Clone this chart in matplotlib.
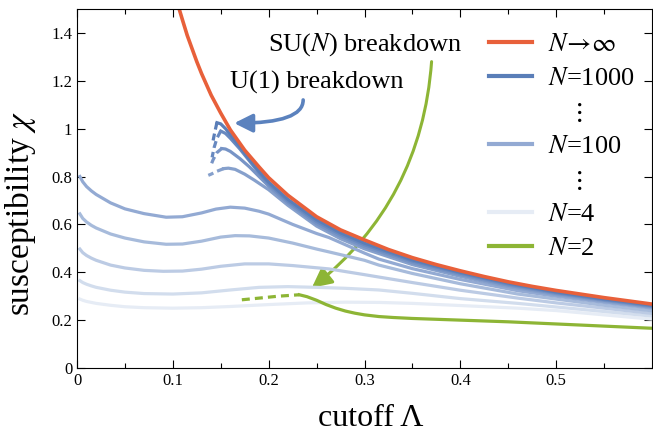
import matplotlib
matplotlib.use('Agg')
import matplotlib.pyplot as plt
from matplotlib.lines import Line2D
from matplotlib.patches import FancyArrowPatch

plt.rcParams['font.family'] = ['Liberation Serif', 'DejaVu Serif']
plt.rcParams['mathtext.fontset'] = 'stix'

# N -> infinity envelope
inf_x = [0.107, 0.11, 0.115, 0.12, 0.125, 0.13, 0.14, 0.15, 0.16, 0.175, 0.19, 0.2, 0.22, 0.25,
         0.275, 0.3, 0.325, 0.35, 0.375, 0.4, 0.425, 0.45, 0.475, 0.5, 0.55, 0.6]
inf_y = [1.495, 1.455, 1.39, 1.335, 1.28, 1.23, 1.14, 1.065, 0.995, 0.91, 0.84, 0.795, 0.722, 0.632,
         0.577, 0.535, 0.495, 0.461, 0.432, 0.406, 0.382, 0.36, 0.341, 0.324, 0.294, 0.267]

# large-N curves (U(1) breakdown), solid part
u1_x = [0.146, 0.15, 0.155, 0.16, 0.17, 0.18, 0.19, 0.2, 0.22, 0.25, 0.275, 0.3, 0.35, 0.4, 0.45, 0.5, 0.55, 0.6]
u1_y = [1.025, 1.02, 1.0, 0.975, 0.925, 0.872, 0.822, 0.777, 0.705, 0.62, 0.565, 0.522, 0.452, 0.4, 0.355,
        0.318, 0.289, 0.263]
u2_x = [0.15, 0.155, 0.16, 0.17, 0.18, 0.19, 0.2, 0.22, 0.25, 0.275, 0.3, 0.35, 0.4, 0.45, 0.5, 0.55, 0.6]
u2_y = [0.99, 0.98, 0.96, 0.915, 0.865, 0.815, 0.77, 0.698, 0.612, 0.558, 0.515, 0.447, 0.396, 0.351,
        0.315, 0.286, 0.26]
u3_x = [0.151, 0.155, 0.16, 0.17, 0.18, 0.19, 0.2, 0.22, 0.25, 0.275, 0.3, 0.35, 0.4, 0.45, 0.5, 0.55, 0.6]
u3_y = [0.917, 0.915, 0.905, 0.875, 0.84, 0.8, 0.76, 0.69, 0.603, 0.55, 0.507, 0.44, 0.39, 0.346,
        0.311, 0.283, 0.257]
u4_x = [0.153, 0.158, 0.165, 0.175, 0.185, 0.2, 0.22, 0.25, 0.275, 0.3, 0.35, 0.4, 0.45, 0.5, 0.55, 0.6]
u4_y = [0.833, 0.835, 0.83, 0.81, 0.785, 0.745, 0.68, 0.593, 0.54, 0.498, 0.432, 0.383, 0.34, 0.306,
        0.279, 0.254]

# dashed (unstable) branches
u1_dash_x = [0.146, 0.144, 0.142]
u1_dash_y = [1.025, 0.99, 0.95]
u2_dash_x = [0.150, 0.146, 0.143, 0.141]
u2_dash_y = [0.99, 0.96, 0.92, 0.88]
u3_dash_x = [0.151, 0.146, 0.142, 0.139]
u3_dash_y = [0.917, 0.90, 0.87, 0.84]
u4_dash_x = [0.153, 0.146, 0.140, 0.137]
u4_dash_y = [0.833, 0.822, 0.81, 0.805]

# small-N curves, from cutoff ~0
l1_x = [0.003, 0.006, 0.01, 0.015, 0.02, 0.035, 0.05, 0.07, 0.093, 0.11, 0.13, 0.145, 0.16, 0.175, 0.19,
        0.2, 0.225, 0.25, 0.263, 0.3, 0.315, 0.35, 0.4, 0.46, 0.5, 0.55, 0.6]
l1_y = [0.80, 0.778, 0.758, 0.74, 0.725, 0.69, 0.665, 0.645, 0.63, 0.632, 0.648, 0.664, 0.672, 0.668,
        0.655, 0.643, 0.6, 0.562, 0.545, 0.48, 0.455, 0.415, 0.37, 0.323, 0.3, 0.274, 0.25]
l2_x = [0.003, 0.006, 0.01, 0.015, 0.02, 0.035, 0.05, 0.07, 0.093, 0.11, 0.13, 0.15, 0.165, 0.18, 0.2,
        0.225, 0.25, 0.263, 0.3, 0.315, 0.35, 0.4, 0.46, 0.5, 0.55, 0.6]
l2_y = [0.644, 0.625, 0.61, 0.596, 0.585, 0.56, 0.543, 0.527, 0.517, 0.518, 0.53, 0.547, 0.553, 0.552,
        0.543, 0.522, 0.497, 0.485, 0.45, 0.43, 0.395, 0.352, 0.309, 0.288, 0.262, 0.239]
l3_x = [0.003, 0.006, 0.01, 0.015, 0.02, 0.035, 0.05, 0.07, 0.09, 0.11, 0.13, 0.15, 0.175, 0.2, 0.225,
        0.263, 0.3, 0.315, 0.35, 0.4, 0.46, 0.5, 0.55, 0.6]
l3_y = [0.497, 0.482, 0.47, 0.459, 0.45, 0.43, 0.418, 0.408, 0.404, 0.405, 0.413, 0.425, 0.435, 0.435,
        0.428, 0.414, 0.39, 0.38, 0.357, 0.325, 0.292, 0.272, 0.25, 0.228]
l4_x = [0.003, 0.006, 0.01, 0.015, 0.02, 0.035, 0.05, 0.07, 0.1, 0.13, 0.16, 0.19, 0.22, 0.25, 0.28,
        0.315, 0.35, 0.4, 0.46, 0.5, 0.55, 0.6]
l4_y = [0.365, 0.357, 0.35, 0.343, 0.337, 0.325, 0.317, 0.311, 0.309, 0.314, 0.326, 0.337, 0.34, 0.337,
        0.333, 0.326, 0.312, 0.29, 0.27, 0.255, 0.236, 0.217]
l5_x = [0.003, 0.006, 0.01, 0.015, 0.02, 0.035, 0.05, 0.07, 0.1, 0.13, 0.16, 0.2, 0.24, 0.28, 0.315,
        0.35, 0.4, 0.46, 0.5, 0.55, 0.6]
l5_y = [0.288, 0.283, 0.278, 0.274, 0.27, 0.262, 0.256, 0.252, 0.25, 0.252, 0.257, 0.265, 0.272, 0.275,
        0.274, 0.27, 0.261, 0.25, 0.24, 0.222, 0.204]

# N = 2
n2_dash_x = [0.172, 0.19, 0.21, 0.232]
n2_dash_y = [0.285, 0.292, 0.300, 0.306]
n2_x = [0.232, 0.24, 0.25, 0.26, 0.27, 0.28, 0.29, 0.3, 0.315, 0.33, 0.35, 0.4, 0.45, 0.5, 0.55, 0.6]
n2_y = [0.306, 0.298, 0.283, 0.265, 0.25, 0.238, 0.229, 0.222, 0.215, 0.211, 0.207, 0.2, 0.193, 0.184,
        0.175, 0.166]

c_inf = '#E8603A'
c_green = '#8DB535'
c_arrow = '#5B82BE'
up_cols = ['#5A7EB8', '#6889C0', '#7794C6', '#86A0CC']
low_cols = ['#93AAD3', '#A7BBDB', '#BCCBE4', '#D2DDED', '#E6ECF5']

fig = plt.figure(figsize=(6.53, 4.37), dpi=100)
ax = fig.add_axes([77/653, 1 - 368/437, 575/653, 359/437])

lw = 2.3
low = [(l5_x, l5_y), (l4_x, l4_y), (l3_x, l3_y), (l2_x, l2_y), (l1_x, l1_y)]
for (xs, ys), c in zip(low, low_cols[::-1]):
    ax.plot(xs, ys, color=c, lw=lw)

ups = [(u4_x, u4_y, u4_dash_x, u4_dash_y), (u3_x, u3_y, u3_dash_x, u3_dash_y),
       (u2_x, u2_y, u2_dash_x, u2_dash_y), (u1_x, u1_y, u1_dash_x, u1_dash_y)]
for (xs, ys, dx, dy), c in zip(ups, up_cols[::-1]):
    ax.plot(xs, ys, color=c, lw=lw)
    ax.plot(dx, dy, color=c, lw=lw, ls=(0, (2.2, 1.3)))

ax.plot(inf_x, inf_y, color=c_inf, lw=2.6)
ax.plot(n2_dash_x, n2_dash_y, color=c_green, lw=lw, ls=(0, (2.5, 1.6)))
ax.plot(n2_x, n2_y, color=c_green, lw=lw)

# arrows and annotations
ax.add_patch(FancyArrowPatch((0.37, 1.28), (0.245, 0.335), connectionstyle='arc3,rad=-0.22',
                             arrowstyle='-|>,head_length=12,head_width=6', color=c_green, lw=2.2,
                             shrinkA=0, shrinkB=0))
ax.add_patch(FancyArrowPatch((0.236, 1.12), (0.164, 1.023), connectionstyle='angle3,angleA=90,angleB=0',
                             arrowstyle='-|>,head_length=11,head_width=5.5', color=c_arrow, lw=2.6,
                             shrinkA=0, shrinkB=0))
ax.text(0.3005, 1.35, 'SU($N$) breakdown', fontsize=19, ha='center', va='center')
ax.text(0.2506, 1.195, 'U(1) breakdown', fontsize=19, ha='center', va='center')

handles = [Line2D([], [], color=c_inf, lw=3),
           Line2D([], [], color=up_cols[0], lw=3),
           Line2D([], [], color='none'),
           Line2D([], [], color=low_cols[0], lw=3),
           Line2D([], [], color='none'),
           Line2D([], [], color=low_cols[-1], lw=3),
           Line2D([], [], color=c_green, lw=3)]
labels = [r'$N\!\rightarrow\!\infty$', r'$N$=1000', r'$\quad\;\vdots$', r'$N$=100',
          r'$\quad\;\vdots$', r'$N$=4', r'$N$=2']
ax.legend(handles, labels, loc='upper left', bbox_to_anchor=(0.716, 0.935), frameon=False,
          fontsize=19, handlelength=1.63, handletextpad=0.6, labelspacing=0.40,
          borderpad=0, borderaxespad=0)

ax.set_xlim(0, 0.6)
ax.set_ylim(0, 1.5)
ax.set_xticks([0, 0.1, 0.2, 0.3, 0.4, 0.5])
ax.set_xticklabels(['0', '0.1', '0.2', '0.3', '0.4', '0.5'])
ax.set_xticks([0.05, 0.15, 0.25, 0.35, 0.45, 0.55], minor=True)
ax.set_yticks([0, 0.2, 0.4, 0.6, 0.8, 1.0, 1.2, 1.4])
ax.set_yticklabels(['0', '0.2', '0.4', '0.6', '0.8', '1', '1.2', '1.4'])
ax.tick_params(which='both', direction='in', top=True, right=True, labelsize=12, width=0.8)
ax.tick_params(which='major', length=6)
ax.tick_params(which='minor', length=3.5)
for s in ax.spines.values():
    s.set_linewidth(0.8)

ax.set_xlabel('cutoff Λ', fontsize=23)
ax.xaxis.set_label_coords(0.51, -0.1)
ax.set_ylabel(r'susceptibility $\chi$', fontsize=24)
ax.yaxis.set_label_coords(-0.068, 0.43)

fig.savefig('out.png', dpi=100)
